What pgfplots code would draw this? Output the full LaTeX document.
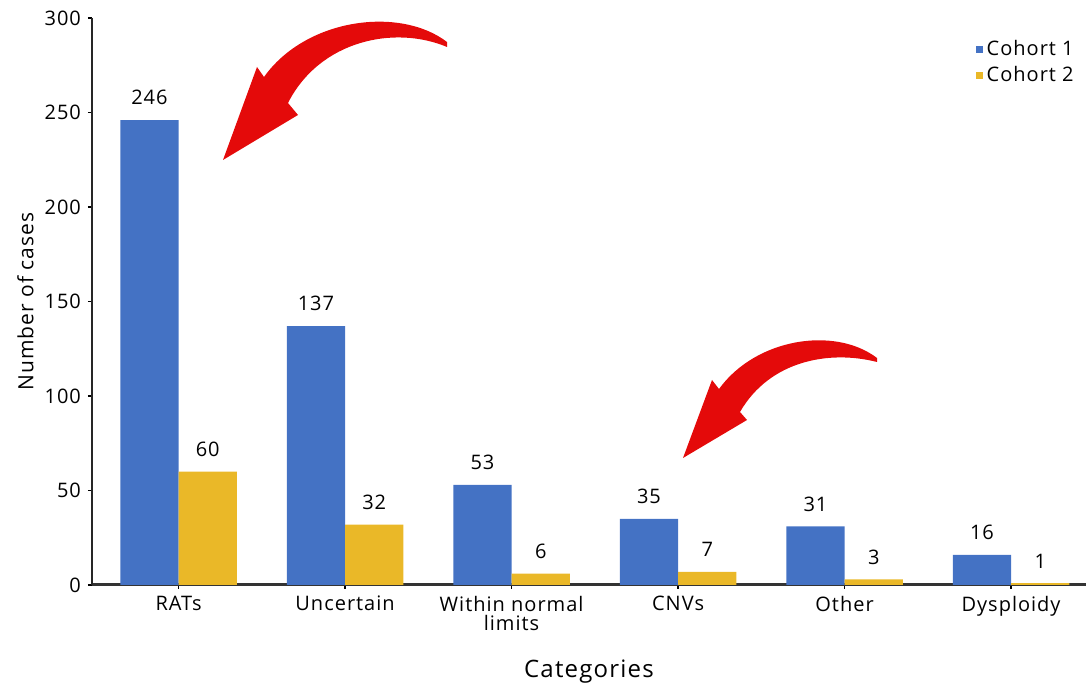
\documentclass[border=0pt]{standalone}
\usepackage{pgfplots}
\pgfplotsset{compat=1.18}
\usepackage{fontspec}
\setmainfont{Open Sans}[LetterSpace=5]

\definecolor{cohortA}{RGB}{68,114,196}
\definecolor{cohortB}{RGB}{234,184,40}
\definecolor{arrowred}{RGB}{228,10,10}

\begin{document}
\begin{tikzpicture}[font=\fontsize{10pt}{11pt}\selectfont]
% fixed page frame
\path[use as bounding box] (-46pt,-51.5pt) rectangle (497pt,292.5pt);
\begin{axis}[
  at={(0,0)}, anchor=south west,
  scale only axis, width=497pt, height=283.5pt,
  xmin=-0.52, xmax=5.45, ymin=0, ymax=300,
  axis x line=bottom, axis y line=left,
  x axis line style={-, line width=1.5pt, color=black!80},
  y axis line style={-, line width=1pt, color=black!85},
  ytick={0,50,...,300},
  xtick={0,1,2,3,4,5},
  xticklabels={RATs, Uncertain, {Within normal\\limits}, CNVs, Other, Dysploidy},
  x tick label style={align=center, font=\fontsize{10pt}{9.5pt}\selectfont},
  y tick label style={font=\fontsize{10pt}{11pt}\selectfont},
  tick align=outside, major tick length=2pt,
  tick style={black, line width=0.8pt},
  /pgf/number format/assume math mode=true,
  ylabel={Number of cases},
  ylabel style={at={(axis description cs:-0.067,0.5)}, anchor=center, font=\fontsize{10.5pt}{11pt}\selectfont},
  xlabel={Categories},
  xlabel style={at={(axis description cs:0.5,-0.153)}, anchor=center, font=\fontsize{12pt}{13pt}\selectfont},
  ybar, bar width=0.35,
  nodes near coords,
  every node near coord/.append style={font=\fontsize{10pt}{11pt}\selectfont, yshift=4pt, black},
  legend style={at={(0.998,0.975)}, anchor=north east, draw=none, fill=none,
    font=\fontsize{10pt}{11pt}\selectfont, row sep=0pt,
    /tikz/every even column/.append style={column sep=0pt}},
  legend cell align=left,
  legend image code/.code={\fill[#1] (0pt,-1.8pt) rectangle (3.6pt,1.8pt);},
  clip=false,
]
\addplot[fill=cohortA, draw=none, bar shift=-0.175] coordinates {
  (0,246) (1,137) (2,53) (3,35) (4,31) (5,16)};
\addplot[fill=cohortB, draw=none, bar shift=0.175] coordinates {
  (0,60) (1,32) (2,6) (3,7) (4,3) (5,1)};
\legend{Cohort 1, Cohort 2}
\end{axis}
% highlighting arrows (coordinates in pt from the axis origin)
\begin{scope}[x=1pt, y=1pt]
\fill[arrowred] (177.5,271.5) .. controls (154,289.5) and (107,283.5) .. (86,254)
  -- (82.5,259) -- (65.5,212.5) -- (103,235) -- (98,241)
  .. controls (114,272.5) and (151.5,280) .. (177.5,269) -- cycle;
\fill[arrowred] (392.5,113.5) .. controls (371.5,129.5) and (332,123.5) .. (313.5,98)
  -- (310,102.5) -- (295.5,63.5) -- (327.5,82.5) -- (324,86.5)
  .. controls (339,112.5) and (369,117.5) .. (392.5,111.5) -- cycle;
\end{scope}
\end{tikzpicture}
\end{document}
